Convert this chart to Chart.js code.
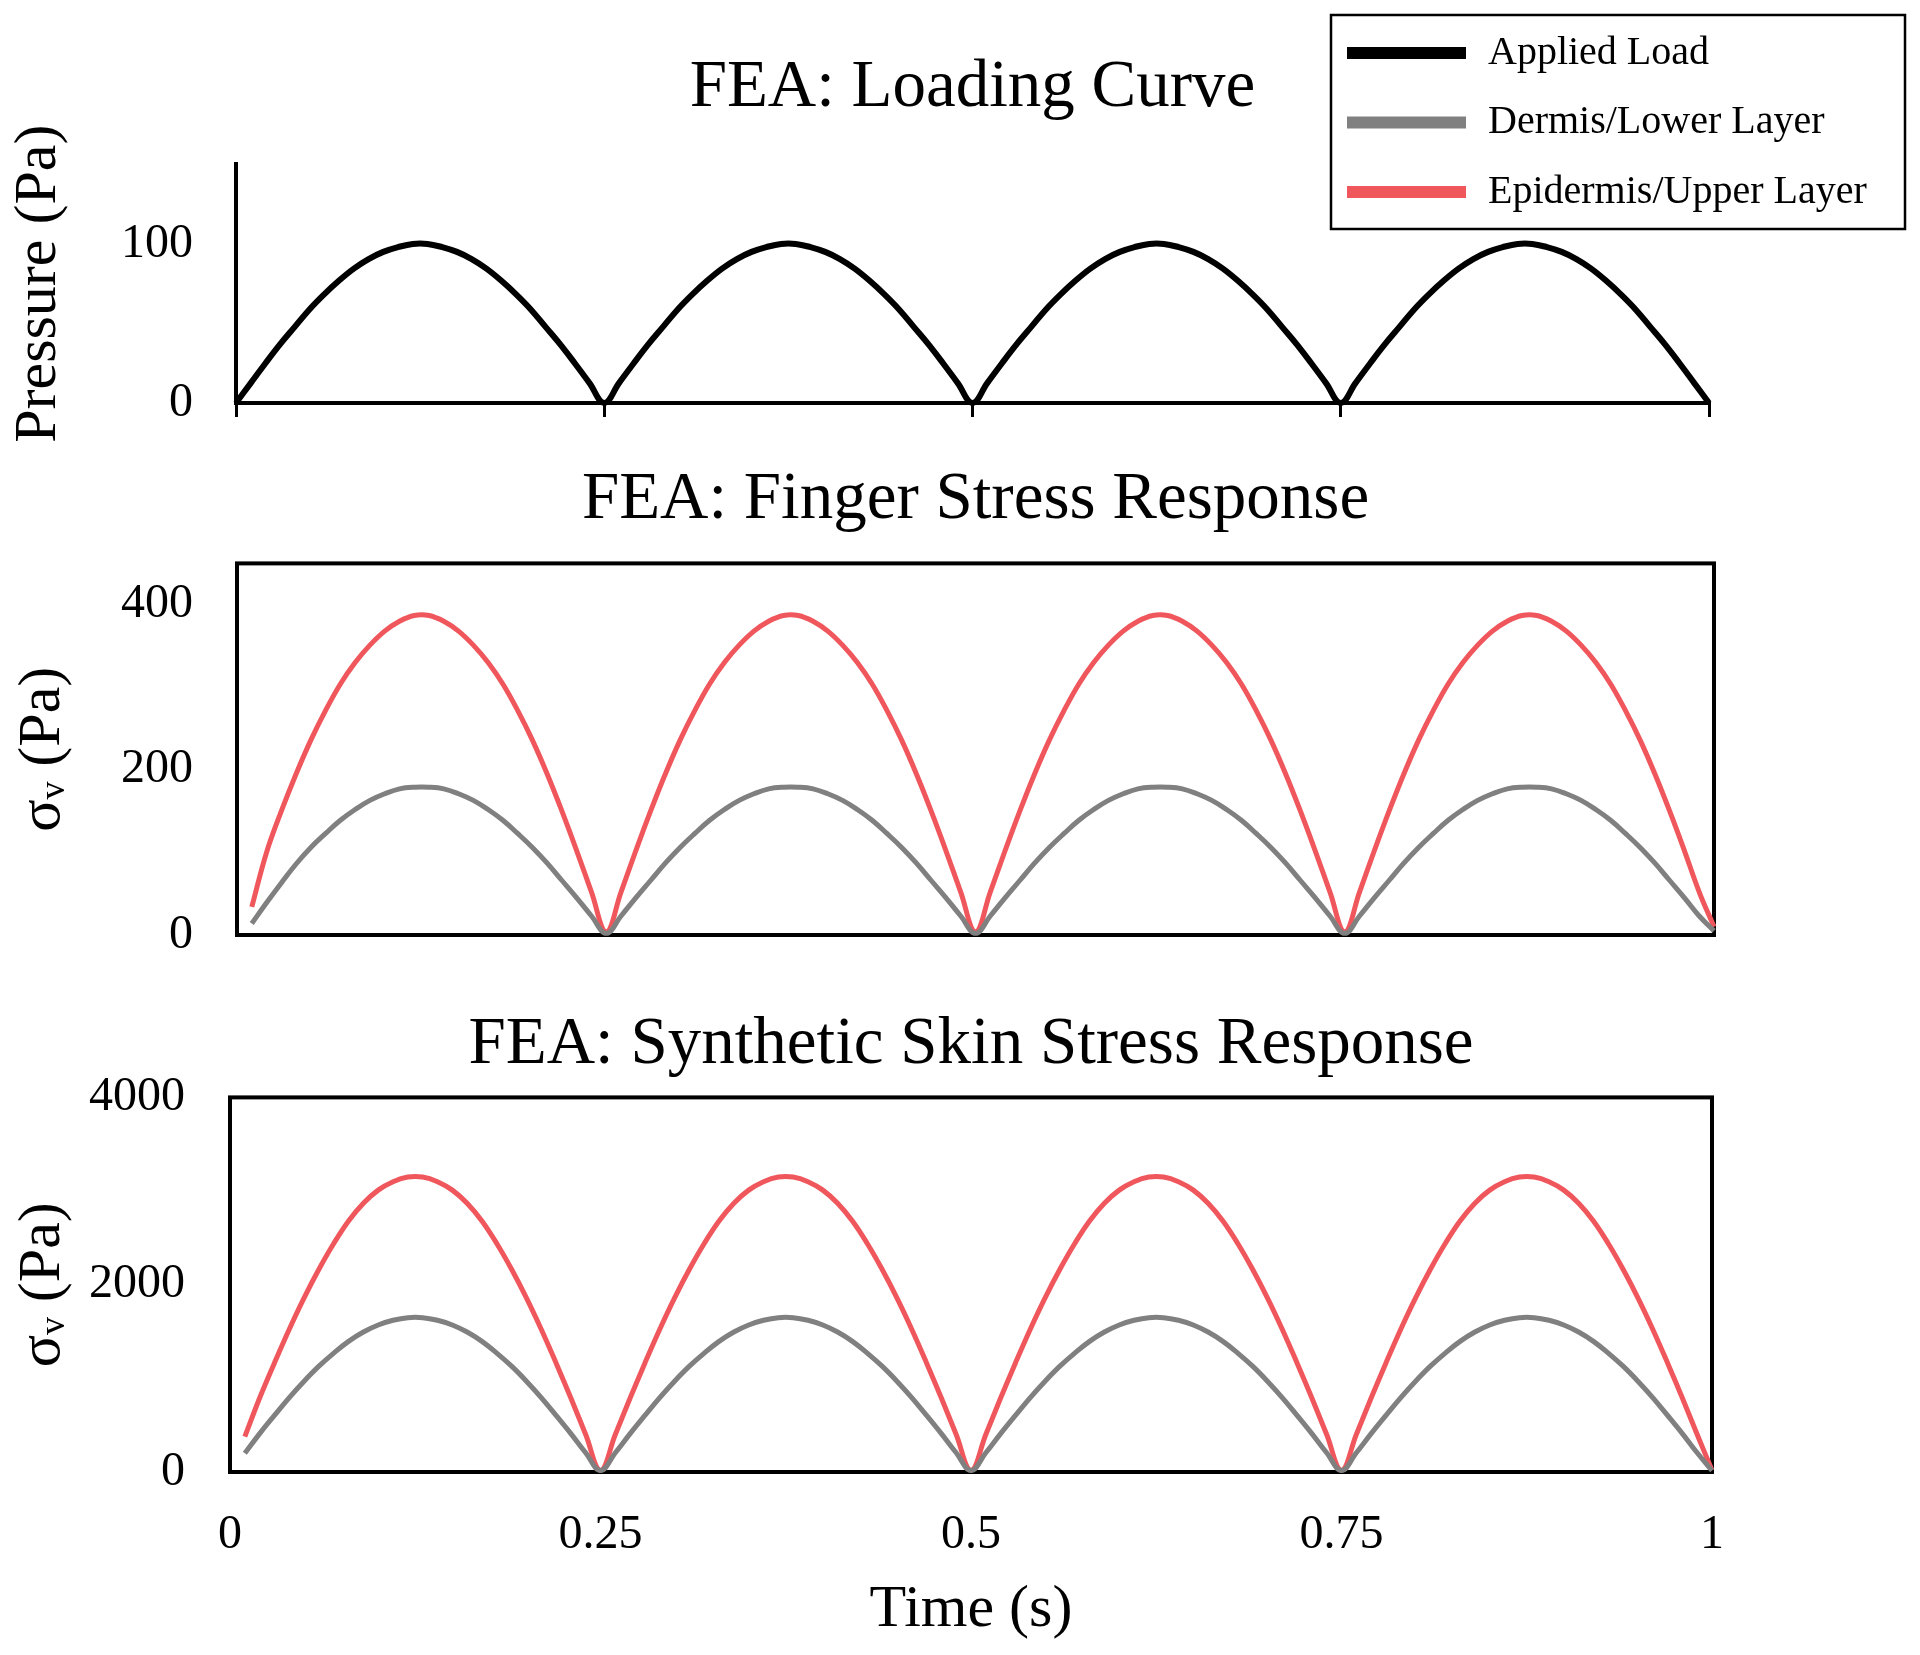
<!DOCTYPE html>
<html>
<head>
<meta charset="utf-8">
<script src="https://cdn.jsdelivr.net/npm/chart.js@4.4.0/dist/chart.umd.min.js"></script>
<style>
body { margin: 0; background: #fff; }
#wrap { position: relative; width: 1920px; height: 1655px; }
canvas { position: absolute; left: 0; top: 0; }
</style>
</head>
<body>
<div id="wrap">
<canvas id="loadChart" width="1920" height="1655"></canvas>
<canvas id="fingerChart" width="1920" height="1655"></canvas>
<canvas id="skinChart" width="1920" height="1655"></canvas>
</div>
<script>
var time = [0,0.01,0.02,0.03,0.04,0.05,0.06,0.07,0.08,0.09,
  0.1,0.11,0.12,0.13,0.14,0.15,0.16,0.17,0.18,0.19,
  0.2,0.21,0.22,0.23,0.24,0.25,0.26,0.27,0.28,0.29,
  0.3,0.31,0.32,0.33,0.34,0.35,0.36,0.37,0.38,0.39,
  0.4,0.41,0.42,0.43,0.44,0.45,0.46,0.47,0.48,0.49,
  0.5,0.51,0.52,0.53,0.54,0.55,0.56,0.57,0.58,0.59,
  0.6,0.61,0.62,0.63,0.64,0.65,0.66,0.67,0.68,0.69,
  0.7,0.71,0.72,0.73,0.74,0.75,0.76,0.77,0.78,0.79,
  0.8,0.81,0.82,0.83,0.84,0.85,0.86,0.87,0.88,0.89,
  0.9,0.91,0.92,0.93,0.94,0.95,0.96,0.97,0.98,0.99,
  1];

var loadValues = [
  0,12.5,25,37,48,59,68.5,77,84.5,90.5,95,98,100,100,98,95,90.5,84.5,77,68.5,59,48,37,25,12.5,
  0,12.5,25,37,48,59,68.5,77,84.5,90.5,95,98,100,100,98,95,90.5,84.5,77,68.5,59,48,37,25,12.5,
  0,12.5,25,37,48,59,68.5,77,84.5,90.5,95,98,100,100,98,95,90.5,84.5,77,68.5,59,48,37,25,12.5,
  0,12.5,25,37,48,59,68.5,77,84.5,90.5,95,98,100,100,98,95,90.5,84.5,77,68.5,59,48,37,25,12.5,
  0];

var fingerLower = [
  null,14,39,63,86,106,123,139,152,163,171,177,179,179,177,171,163,152,139,123,106,87,66,45,23,
  2,23,45,66,87,106,123,139,152,163,171,177,179,179,177,171,163,152,139,123,106,87,66,45,23,
  2,23,45,66,87,106,123,139,152,163,171,177,179,179,177,171,163,152,139,123,106,87,66,45,23,
  2,23,45,66,87,106,123,139,152,163,171,177,179,179,177,171,163,152,139,123,106,87,66,45,23,
  5];

var fingerUpper = [
  null,34,100,150,195,236,272,304,330,351,368,380,387,387,380,368,351,330,304,272,236,195,150,102,52,
  4,52,102,150,195,236,272,304,330,351,368,380,387,387,380,368,351,330,304,272,236,195,150,102,52,
  4,52,102,150,195,236,272,304,330,351,368,380,387,387,380,368,351,330,304,272,236,195,150,102,52,
  4,52,102,150,195,236,272,304,330,351,368,380,387,387,380,368,351,330,304,272,236,195,150,102,52,
  10];

var skinLower = [
  null,199,410,605,795,970,1130,1270,1395,1495,1570,1620,1648,1648,1620,1570,1495,1395,1270,1130,970,795,605,410,205,
  15,205,410,605,795,970,1130,1270,1395,1495,1570,1620,1648,1648,1620,1570,1495,1395,1270,1130,970,795,605,410,205,
  15,205,410,605,795,970,1130,1270,1395,1495,1570,1620,1648,1648,1620,1570,1495,1395,1270,1130,970,795,605,410,205,
  15,205,410,605,795,970,1130,1270,1395,1495,1570,1620,1648,1648,1620,1570,1495,1395,1270,1130,970,795,605,410,205,
  15];

var skinUpper = [
  null,377,790,1165,1525,1860,2165,2440,2680,2870,3010,3100,3150,3150,3100,3010,2870,2680,2440,2165,1860,1525,1165,790,400,
  20,400,790,1165,1525,1860,2165,2440,2680,2870,3010,3100,3150,3150,3100,3010,2870,2680,2440,2165,1860,1525,1165,790,400,
  20,400,790,1165,1525,1860,2165,2440,2680,2870,3010,3100,3150,3150,3100,3010,2870,2680,2440,2165,1860,1525,1165,790,400,
  20,400,790,1165,1525,1860,2165,2440,2680,2870,3010,3100,3150,3150,3100,3010,2870,2680,2440,2165,1860,1525,1165,790,400,
  20];

var timeTicks = [0, 0.25, 0.5, 0.75, 1];
var loadTicks = [0, 100];
var fingerTicks = [0, 200, 400];
var skinTicks = [0, 2000, 4000];

var legendLabels = ["Applied Load", "Dermis/Lower Layer", "Epidermis/Upper Layer"];
var legendColors = ["#000000", "#808080", "#F0575C"];

var serif = '"Liberation Serif", "Times New Roman", serif';
Chart.defaults.font.family = serif;
Chart.defaults.color = '#000';

function points(values) {
  return values.map(function (v, i) { return { x: time[i], y: v }; });
}

function line(values, color, width) {
  return {
    data: points(values),
    borderColor: color,
    borderWidth: width,
    pointRadius: 0,
    tension: 0.4,
    clip: 8
  };
}

function fixedTicks(list) {
  return function (scale) {
    scale.ticks = list.map(function (v) { return { value: v }; });
  };
}

// box round the plot area (panels 2 and 3)
var framePlugin = {
  id: 'frame',
  beforeDatasetsDraw: function (chart, args, opts) {
    if (!opts.show) return;
    var a = chart.chartArea, ctx = chart.ctx;
    ctx.save();
    ctx.strokeStyle = '#000';
    ctx.lineWidth = 4;
    ctx.strokeRect(a.left, a.top, a.right - a.left, a.bottom - a.top);
    ctx.restore();
  }
};

// boxed legend at top right
var legendPlugin = {
  id: 'boxLegend',
  afterDraw: function (chart, args, o) {
    if (!o.show) return;
    var ctx = chart.ctx;
    ctx.save();
    ctx.strokeStyle = '#000';
    ctx.lineWidth = 2.5;
    ctx.strokeRect(o.left, o.top, o.width, o.height);
    ctx.font = '40px ' + serif;
    ctx.textBaseline = 'middle';
    ctx.fillStyle = '#000';
    legendLabels.forEach(function (label, i) {
      var y = o.firstRow + i * o.rowGap;
      ctx.strokeStyle = legendColors[i];
      ctx.lineWidth = 12;
      ctx.beginPath();
      ctx.moveTo(o.left + 16, y);
      ctx.lineTo(o.left + 135, y);
      ctx.stroke();
      ctx.fillText(label, o.left + 157, y);
    });
    ctx.restore();
  }
};

function panel(id, cfg) {
  return new Chart(id, {
    type: 'line',
    data: { datasets: cfg.datasets },
    plugins: [framePlugin, legendPlugin],
    options: {
      responsive: false,
      animation: false,
      events: [],
      layout: { padding: cfg.padding },
      plugins: {
        legend: { display: false },
        tooltip: { enabled: false },
        title: {
          display: true,
          fullSize: false,
          text: cfg.title,
          color: '#000',
          font: { size: 67, weight: 'normal' },
          padding: { top: 0, bottom: cfg.titleGap }
        },
        frame: { show: cfg.frame },
        boxLegend: cfg.legend || { show: false }
      },
      scales: {
        x: {
          type: 'linear',
          min: 0,
          max: 1,
          afterBuildTicks: fixedTicks(timeTicks),
          afterFit: function (s) { s.height = cfg.xHeight; },
          ticks: {
            display: cfg.xLabels,
            padding: 35,
            font: { size: 48 },
            callback: function (v) { return String(v); }
          },
          grid: {
            drawOnChartArea: false,
            drawTicks: cfg.xTickMarks,
            tickLength: 14,
            tickWidth: 3,
            tickColor: '#000',
            lineWidth: 3,
            color: '#000'
          },
          border: { display: !cfg.frame, color: '#000', width: 4 },
          title: {
            display: cfg.xLabels,
            text: 'Time (s)',
            font: { size: 60 },
            padding: 0
          }
        },
        y: {
          min: 0,
          max: cfg.yMax,
          afterBuildTicks: fixedTicks(cfg.yTicks),
          afterFit: function (s) { s.width = cfg.yWidth; },
          ticks: {
            padding: cfg.yPad,
            font: { size: 48 },
            callback: function (v) { return String(v); }
          },
          grid: { drawOnChartArea: false, drawTicks: false },
          border: { display: !cfg.frame, color: '#000', width: 4 },
          title: {
            display: true,
            text: cfg.yTitle,
            font: { size: 60 },
            padding: { top: cfg.yTitlePad, bottom: 0 }
          }
        }
      }
    }
  });
}

// every canvas covers the whole page; padding places each panel
panel('loadChart', {
  title: 'FEA: Loading Curve',
  datasets: [line(loadValues, '#000000', 6)],
  padding: { left: 0, right: 211, top: 48, bottom: 1238 },
  titleGap: 36,
  frame: false,
  xLabels: false,
  xTickMarks: true,
  xHeight: 14,
  yMax: 150,
  yTicks: loadTicks,
  yWidth: 236,
  yPad: 43,
  yTitle: 'Pressure (Pa)',
  yTitlePad: 3,
  legend: { show: true, left: 1331, top: 15, width: 574, height: 214, firstRow: 53, rowGap: 69.5 }
});

panel('fingerChart', {
  title: 'FEA: Finger Stress Response',
  datasets: [line(fingerLower, '#808080', 5), line(fingerUpper, '#F0575C', 5)],
  padding: { left: 0, right: 206, top: 460, bottom: 720 },
  titleGap: 23,
  frame: true,
  xLabels: false,
  xTickMarks: false,
  xHeight: 0,
  yMax: 450,
  yTicks: fingerTicks,
  yWidth: 237,
  yPad: 44,
  yTitle: 'σᵥ (Pa)',
  yTitlePad: 7
});

panel('skinChart', {
  title: 'FEA: Synthetic Skin Stress Response',
  datasets: [line(skinLower, '#808080', 5), line(skinUpper, '#F0575C', 5)],
  padding: { left: 0, right: 208, top: 1005, bottom: 9 },
  titleGap: 12,
  frame: true,
  xLabels: true,
  xTickMarks: false,
  xHeight: 174,
  yMax: 4000,
  yTicks: skinTicks,
  yWidth: 230,
  yPad: 45,
  yTitle: 'σᵥ (Pa)',
  yTitlePad: 7
});
</script>
</body>
</html>
